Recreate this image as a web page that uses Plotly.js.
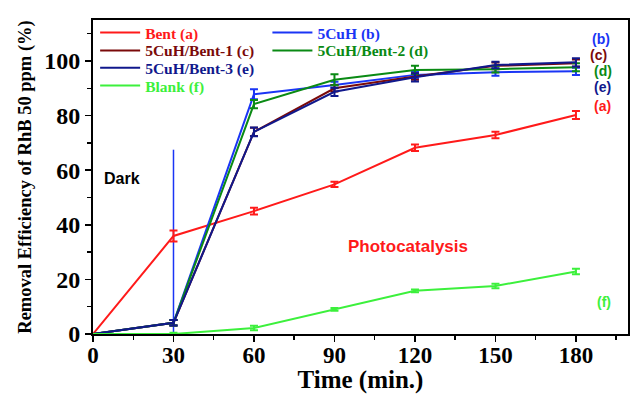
<!DOCTYPE html>
<html><head><meta charset="utf-8">
<script src="https://cdn.plot.ly/plotly-3.0.1.min.js"></script>
<style>html,body{margin:0;padding:0;background:#fff}#chart{width:630px;height:394px}</style>
</head><body><div id="chart"></div>
<script>
const timeMin = [0, 30, 60, 90, 120, 150, 180];
const bentA      = [0, 35.9, 45.0, 54.8, 68.2, 72.9, 80.2];
const cuhB       = [0, 4.1, 87.8, 91.2, 94.9, 95.9, 96.2];
const cuhBent1C  = [0, 4.1, 74.0, 90.0, 94.3, 98.2, 99.2];
const cuhBent2D  = [0, 4.1, 84.2, 93.1, 96.7, 97.0, 97.7];
const cuhBent3E  = [0, 4.1, 74.0, 88.7, 94.0, 98.5, 99.5];
const blankF     = [0, 0, 2.2, 9.0, 15.8, 17.6, 22.9];
const errA = [0, 2.0, 1.2, 1.0, 1.2, 1.2, 1.5];
const errB = [0, 1.0, 1.8, 1.2, 1.2, 1.3, 1.3];
const errC = [0, 1.0, 1.5, 1.2, 1.2, 1.2, 1.3];
const errD = [0, 1.0, 1.5, 2.0, 1.5, 1.2, 1.5];
const errE = [0, 1.0, 1.6, 1.5, 1.5, 1.2, 1.5];
const errF = [0, 0.5, 0.8, 0.5, 0.5, 0.8, 1.0];
const spikeX = [30, 30];
const spikeY = [-1, 67.5];
const names = ['Bent (a)', '5CuH (b)', '5CuH/Bent-1 (c)', '5CuH/Bent-2 (d)', '5CuH/Bent-3 (e)', 'Blank (f)'];
const colors = ['#ff1a1a', '#1a35f5', '#7a0a0a', '#0a8a14', '#10188c', '#3cf03c'];
const xTicks = [0, 30, 60, 90, 120, 150, 180];
const yTicks = [0, 20, 40, 60, 80, 100];
const endLabels = ['(b)', '(c)', '(d)', '(e)', '(a)', '(f)'];
const endLabelX = [189.5, 188.5, 190, 190, 190, 190.5];
const endLabelY = [108, 102.3, 96.2, 90.3, 83.5, 11.8];
const endLabelColor = [colors[1], colors[2], colors[3], colors[4], colors[0], colors[5]];

const series = [bentA, cuhB, cuhBent1C, cuhBent2D, cuhBent3E, blankF];
const errs = [errA, errB, errC, errD, errE, errF];
const legendIds = ['legend', 'legend2', 'legend3', 'legend4', 'legend5', 'legend6'];
const legendX = [0.004, 0.326, 0.004, 0.326, 0.004, 0.004];
const legendY = [1.013, 1.013, 0.956, 0.956, 0.901, 0.844];

const traces = [];
traces.push({x: spikeX, y: spikeY, mode: 'lines', line: {color: colors[1], width: 1.5}, showlegend: false, hoverinfo: 'skip'});
series.forEach((s, i) => {
  traces.push({
    x: timeMin, y: s, mode: 'lines', name: '<span style="color:' + colors[i] + '">' + names[i] + '</span>',
    legend: legendIds[i],
    line: {color: colors[i], width: 2},
    error_y: {type: 'data', array: errs[i], visible: true, color: colors[i], thickness: 2, width: 4}
  });
});

const serif = 'Liberation Serif, Times New Roman, serif';
const sans = 'Liberation Sans, Arial, sans-serif';
const annotations = endLabels.map((t, i) => ({
  x: endLabelX[i], y: endLabelY[i], text: t, showarrow: false,
  font: {family: sans, size: 14, color: endLabelColor[i], weight: 'bold'}
}));
annotations.push({x: 10.8, y: 57, text: 'Dark', showarrow: false, font: {family: sans, size: 16, color: '#000', weight: 'bold'}});
annotations.push({x: 117.5, y: 32, text: 'Photocatalysis', showarrow: false, font: {family: sans, size: 17, color: '#ff1a1a', weight: 'bold'}});

const layout = {
  width: 630, height: 394,
  margin: {l: 93, r: 2, t: 20, b: 60},
  paper_bgcolor: '#fff', plot_bgcolor: '#fff',
  showlegend: true,
  xaxis: {
    range: [0, 199.4], tickvals: xTicks, ticks: 'outside', ticklen: 6, tickwidth: 1.5, tickcolor: '#000',
    ticklabelstandoff: -7,
    minor: {dtick: 15, tick0: 0, ticks: 'outside', ticklen: 4, tickcolor: '#000', tickwidth: 1.5},
    showgrid: false, zeroline: false, showline: true, linecolor: '#000', linewidth: 2, mirror: true,
    tickfont: {family: serif, size: 23, color: '#000', weight: 'bold'},
    title: {text: 'Time (min.)', font: {family: serif, size: 25, color: '#000', weight: 'bold'}, standoff: 4}
  },
  yaxis: {
    range: [0, 115], tickvals: yTicks, ticks: 'outside', ticklen: 6, tickwidth: 1.5, tickcolor: '#000',
    minor: {dtick: 10, tick0: 0, ticks: 'outside', ticklen: 4, tickcolor: '#000', tickwidth: 1.5},
    showgrid: false, zeroline: false, showline: true, linecolor: '#000', linewidth: 2, mirror: true,
    tickfont: {family: serif, size: 24, color: '#000', weight: 'bold'},
    title: {text: 'Removal Efficiency of RhB 50 ppm (%)', font: {family: serif, size: 18.5, color: '#000', weight: 'bold'}, standoff: 8}
  },
  annotations: annotations
};
legendIds.forEach((id, i) => {
  layout[id] = {x: legendX[i], y: legendY[i], xanchor: 'left', yanchor: 'top', bgcolor: 'rgba(0,0,0,0)',
    itemwidth: 40, font: {family: serif, size: 15.5, weight: 'bold'}};
});
Plotly.newPlot('chart', traces, layout, {staticPlot: true});
</script></body></html>
